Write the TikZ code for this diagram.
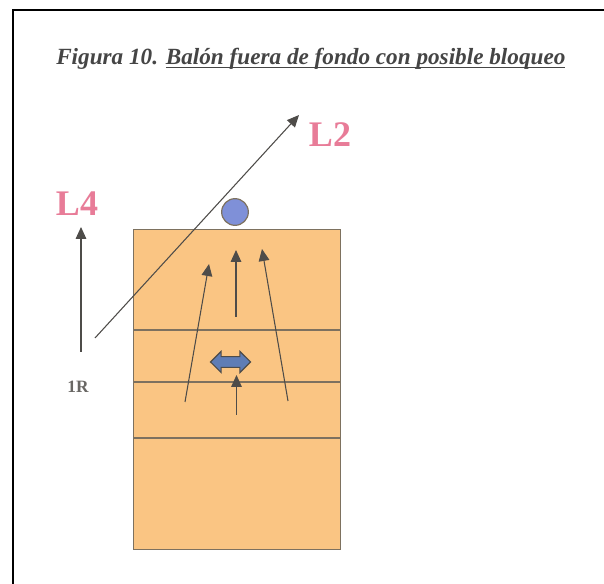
\documentclass[tikz,border=0pt]{standalone}
\usepackage{fontspec}
\setmainfont{Liberation Serif}
\usetikzlibrary{arrows.meta,shapes.arrows}
\definecolor{court}{HTML}{FAC583}
\definecolor{courtline}{HTML}{7D715F}
\definecolor{ink}{HTML}{4E4C49}
\definecolor{titleink}{HTML}{454545}
\definecolor{ballblue}{HTML}{7F90D8}
\definecolor{dbl}{HTML}{5F7DB5}
\definecolor{lbl}{HTML}{E87C98}
\newcommand{\thickul}[1]{\setbox0=\hbox{#1}\rlap{\rule[-2.6pt]{\wd0}{1.2pt}}\box0}
\tikzset{
  x=0.75pt,y=-0.75pt,
  courtrule/.style={draw=courtline,line width=0.9pt},
  play/.style={draw=ink,line width=0.8pt,-{Triangle[length=9pt,width=8pt]}},
  lab/.style={font=\bfseries\fontsize{27}{27}\selectfont,text=lbl,inner sep=0pt},
}
\begin{document}
\begin{tikzpicture}
\useasboundingbox (0,0) rectangle (604,584);
\fill[white] (0,0) rectangle (604,584);
\draw[black,line width=1.5pt] (13,584) -- (13,10) -- (604,10);
\node[inner sep=0pt,anchor=base west,font=\bfseries\itshape\fontsize{17.4}{18}\selectfont,text=titleink] (title) at (56,65) {Figura 10. \thickul{Balón fuera de fondo con posible bloqueo}};
\node[courtrule,fill=court,minimum width=155pt,minimum height=240pt,inner sep=0pt,anchor=north west] (court) at (133,229) {};
\draw[courtrule] (133,330) coordinate (a1) -- (340,330) coordinate (a2);
\draw[courtrule] (133,382) coordinate (b1) -- (340,382) coordinate (b2);
\draw[courtrule] (133,438) coordinate (c1) -- (340,438) coordinate (c2);
\node[circle,draw=courtline,line width=0.9pt,fill=ballblue,minimum size=20pt,inner sep=0pt] (ball) at (235,212) {};
\node[lab] (L2) at (330,135) {L2};
\node[lab] (L4) at (77,204) {L4};
\node[inner sep=0pt,font=\bfseries\fontsize{13}{13}\selectfont,text=ink!85] (R1) at (78,387) {1R};
\coordinate (s1) at (95,338); \coordinate (e1) at (299,115);
\coordinate (s2) at (81,352); \coordinate (e2) at (81,227);
\coordinate (s3) at (185,402); \coordinate (e3) at (209,264);
\coordinate (s4) at (236,317); \coordinate (e4) at (236,250);
\coordinate (s5) at (288,401); \coordinate (e5) at (262,249);
\coordinate (s6) at (236.5,415); \coordinate (e6) at (236.5,375);
\draw[play] (s1) -- (e1);
\draw[play] (s2) -- (e2);
\draw[play] (s3) -- (e3);
\draw[play] (s4) -- (e4);
\draw[play] (s5) -- (e5);
\draw[play] (s6) -- (e6);
\node[double arrow,draw=ink,line width=0.8pt,fill=dbl,minimum width=16pt,minimum height=30pt,double arrow head extend=4pt,inner xsep=0pt,inner ysep=3.6pt] (dbl) at (230.5,362) {};
\end{tikzpicture}
\end{document}
